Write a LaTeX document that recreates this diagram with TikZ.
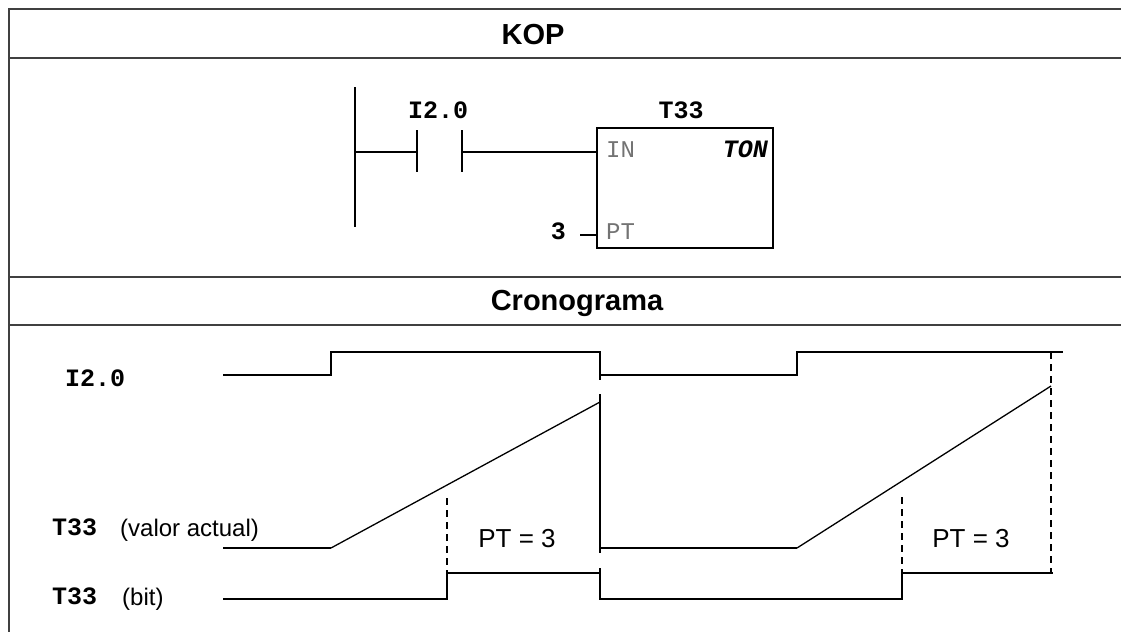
\documentclass[tikz,border=0pt]{standalone}
\usepackage{fontspec}
\setmainfont{Liberation Sans}
\setmonofont{Liberation Mono}
\usepackage{tikz}

\begin{document}
\begin{tikzpicture}
      [ x = 1pt, y = -1pt
      , frame/.style =
        { line width = 2pt, draw = black!75 }
      , wire/.style =
        { line width = 1.7pt }
      , signal/.style =
        { line width = 1.8pt }
      , ramp/.style =
        { line width = 1.3pt }
      , guide/.style =
        { line width = 1.5pt, dash pattern = on 7pt off 5pt }
      , header/.style =
        { font = \fontsize{29}{30}\selectfont\bfseries, inner sep = 0pt }
      , operand/.style =
        { font = \fontsize{25}{26}\selectfont\ttfamily\bfseries, inner sep = 0pt }
      , pin/.style =
        { font = \fontsize{24}{25}\selectfont\ttfamily, text = black!55, inner sep = 0pt }
      , caption/.style =
        { font = \fontsize{24}{25}\selectfont, inner sep = 0pt }
      ]
      \useasboundingbox (0,0) rectangle (1121,632);
      % frame and bands
      \draw [frame] (1121,9) -- (9,9) -- (9,632);
      \draw [frame] (9,58) -- (1121,58);
      \draw [frame] (9,277) -- (1121,277);
      \draw [frame] (9,325) -- (1121,325);
      \node [header, anchor=base] (kop) at (533,44) {KOP};
      \node [header, anchor=base] (crono) at (577,310) {Cronograma};
      % ladder
      \coordinate (railtop) at (355,87);
      \coordinate (railbot) at (355,227);
      \coordinate (rung) at (355,152);
      \coordinate (nola) at (417,152);
      \coordinate (nolb) at (462,152);
      \coordinate (preset) at (580,235);
      \node [draw, wire, minimum width=176pt, minimum height=120pt, inner sep=0pt] (timer) at (685,188) {};
      \draw [wire] (railtop) to (railbot);
      \draw [wire] (rung) to (nola);
      \draw [wire] ([yshift=22pt]nola) to ([yshift=-20pt]nola);
      \draw [wire] ([yshift=22pt]nolb) to ([yshift=-20pt]nolb);
      \draw [wire] (nolb) to (timer.west |- nolb);
      \draw [wire] (preset) to (timer.west |- preset);
      \node [operand, anchor=base] (contact) at (438,118) {I2.0};
      \node [operand, anchor=base] (tname) at (681,118) {T33};
      \node [pin, anchor=base west] (inpin) at (606,157) {IN};
      \node [pin, anchor=base west] (ptpin) at (606,239) {PT};
      \node [operand, font=\fontsize{25}{26}\selectfont\ttfamily\bfseries\itshape, anchor=base east] (ton) at (768,157) {TON};
      \node [operand, anchor=base east] (pval) at (566,239) {3};
      % timing labels
      \node [operand, anchor=base west] (lin) at (65,386) {I2.0};
      \node [operand, anchor=base west] (lacc) at (52,535) {T33};
      \node [caption, anchor=base west] (laccx) at (120,536) {(valor actual)};
      \node [operand, anchor=base west] (lbit) at (52,604) {T33};
      \node [caption, anchor=base west] (lbitx) at (122,605) {(bit)};
      % I2.0
      \draw [signal] (223,375) -- (331,375) -- (331,352) -- (600,352) -- (600,380);
      \draw [signal] (600,375) -- (797,375) -- (797,352) -- (1063,352);
      % T33 valor actual
      \draw [signal] (223,548) -- (331,548);
      \draw [ramp] (331,548) -- (600,402);
      \draw [signal] (600,394) -- (600,553);
      \draw [signal] (600,548) -- (797,548);
      \draw [ramp] (797,548) -- (1051,386);
      % T33 bit
      \draw [signal] (223,599) -- (447,599) -- (447,573) -- (600,573);
      \draw [signal] (600,568) -- (600,599) -- (902,599) -- (902,573) -- (1053,573);
      \draw [guide] (447,498) -- (447,573);
      \draw [guide] (902,497) -- (902,573);
      \draw [guide] (1051,352) -- (1051,573);
      \node [caption, font=\fontsize{26}{27}\selectfont, anchor=base] (pt1) at (517,547) {PT = 3};
      \node [caption, font=\fontsize{26}{27}\selectfont, anchor=base] (pt2) at (971,547) {PT = 3};
    \end{tikzpicture}
\end{document}
